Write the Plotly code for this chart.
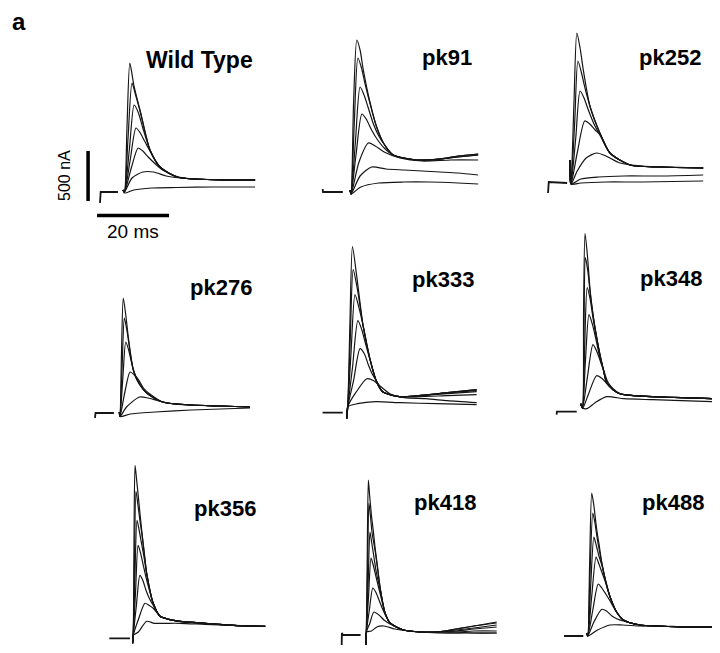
import plotly.graph_objects as go

# ---- data: time in ms from stimulus, current in nA above baseline ----
names = ["Wild Type", "pk91", "pk252", "pk276", "pk333", "pk348", "pk356", "pk418", "pk488"]

scale_na = 500
scale_ms = 20

# Wild Type
wt_base_t = [-6.4, -6.35, -6.2, -1.4]
wt_base_i = [-100, 0, 10, 10]
wt_t = [
    [0, 0.4, 1.1, 1.9, 3.0, 4.7, 7.5, 10.3, 15, 20, 28, 36.7],
    [0, 0.4, 1.4, 2.5, 3.5, 4.9, 7.5, 10.3, 15, 20, 28, 36.7],
    [0, 0.4, 1.8, 3.1, 4.3, 5.5, 7.5, 10.3, 15, 20, 28, 36.7],
    [0, 0.4, 2.0, 3.6, 4.8, 6.0, 7.8, 10.3, 15, 20, 28, 36.7],
    [0, 0.4, 2.3, 4.2, 5.5, 7.0, 9.0, 11, 15, 20, 28, 36.7],
    [0, 0.4, 2.5, 5.5, 8.5, 12, 16, 20, 28, 36.7],
    [0, 0.4, 3, 8, 15, 25, 36.7],
]
wt_i = [
    [30, 10, 650, 1300, 1080, 830, 430, 260, 160, 140, 130, 130],
    [30, 10, 550, 1100, 980, 800, 430, 260, 160, 140, 130, 130],
    [30, 10, 450, 880, 800, 650, 430, 260, 160, 140, 130, 130],
    [30, 10, 330, 650, 600, 520, 400, 260, 160, 140, 130, 130],
    [30, 10, 250, 450, 420, 360, 290, 230, 165, 140, 130, 130],
    [30, 10, 150, 210, 210, 170, 150, 140, 130, 130],
    [30, 0, 30, 50, 55, 60, 60],
]

# pk91
pk91_base_t = [-7.6, -7.5, -2.0]
pk91_base_i = [30, 0, 0]
pk91_t = [
    [0, 0.3, 1.0, 1.9, 2.8, 3.7, 5.6, 7.4, 9.3, 12, 18.6, 25, 30, 35.6],
    [0, 0.3, 1.2, 2.2, 3.2, 4.2, 5.6, 7.4, 9.3, 12, 18.6, 25, 30, 35.6],
    [0, 0.3, 1.5, 2.8, 3.8, 5.0, 6.5, 8.0, 9.8, 12, 18.6, 25, 30, 35.6],
    [0, 0.3, 1.7, 3.3, 4.5, 6.0, 7.5, 9.5, 12, 18.6, 25, 30, 35.6],
    [0, 0.3, 2.5, 5.1, 7, 9.5, 13.9, 20, 28, 35.6],
    [0, 0.3, 2.8, 6.0, 10, 15, 20, 25, 30, 35.6],
    [0, 0.3, 3, 8, 15, 22, 30, 35.6],
]
pk91_i = [
    [20, -20, 900, 1520, 1420, 1220, 890, 650, 490, 370, 320, 330, 360, 380],
    [20, -20, 700, 1340, 1240, 1080, 880, 650, 490, 370, 320, 330, 360, 380],
    [20, -20, 500, 1050, 980, 850, 680, 560, 460, 370, 320, 330, 350, 370],
    [20, -20, 380, 780, 730, 620, 530, 440, 370, 320, 330, 350, 370],
    [20, -20, 300, 490, 460, 400, 340, 310, 320, 320],
    [20, -20, 160, 250, 230, 220, 210, 200, 190, 170],
    [20, -20, 50, 90, 100, 100, 90, 80],
]

# pk252
pk252_base_t = [-6.1, -6.05, -5.9, -0.8]
pk252_base_i = [-100, 0, 10, 0]
pk252_t = [
    [0, 0.3, 1.1, 1.9, 2.8, 3.7, 5.6, 8.3, 11.1, 16.7, 25, 37],
    [0, 0.3, 1.3, 2.2, 3.2, 4.3, 5.8, 8.3, 11.1, 16.7, 25, 37],
    [0, 0.3, 1.6, 2.8, 3.9, 5.2, 6.8, 8.6, 11.1, 16.7, 25, 37],
    [0, 0.3, 2.0, 4.1, 5.5, 7, 8.5, 11.1, 16.7, 25, 37],
    [0, 0.3, 2, 4.5, 7.4, 10, 13.9, 20, 28, 37],
    [0, 0.3, 3, 8, 15, 25, 37],
    [0, 0.3, 3, 10, 20, 37],
]
pk252_i = [
    [230, -10, 800, 1500, 1350, 1130, 760, 500, 300, 180, 160, 150],
    [230, -10, 600, 1220, 1100, 930, 740, 500, 300, 180, 160, 150],
    [230, -10, 450, 920, 850, 720, 580, 460, 300, 180, 160, 150],
    [230, -10, 300, 620, 590, 530, 480, 300, 180, 160, 150],
    [230, -10, 120, 250, 300, 270, 200, 170, 160, 150],
    [230, -10, 40, 60, 70, 70, 80],
    [230, -10, 0, 10, 10, 20],
]

# pk276
pk276_base_t = [-6.75, -6.6, -1.5]
pk276_base_i = [-30, 20, 20]
pk276_t = [
    [0, 0.2, 0.6, 1.1, 1.8, 2.5, 3.9, 5.5, 7.6, 12, 20, 28, 36.3],
    [0, 0.2, 0.8, 1.4, 2.1, 2.8, 3.9, 5.5, 7.6, 12, 20, 28, 36.3],
    [0, 0.2, 1.0, 1.8, 2.6, 3.3, 4.3, 5.5, 7.6, 12, 20, 28, 36.3],
    [0, 0.2, 1.5, 3.0, 4.2, 5.4, 6.7, 8.5, 12, 20, 28, 36.3],
    [0, 0.2, 2, 5.6, 8, 11, 15, 20, 28, 36.3],
    [0, 0.2, 3, 10, 20, 36.3],
]
pk276_i = [
    [30, -15, 600, 1170, 1000, 780, 450, 320, 220, 130, 100, 90, 80],
    [30, -15, 500, 970, 850, 680, 450, 320, 220, 130, 100, 90, 80],
    [30, -15, 380, 730, 650, 540, 400, 310, 220, 130, 100, 90, 80],
    [30, -15, 220, 430, 400, 350, 270, 210, 130, 100, 90, 80],
    [30, -15, 80, 180, 170, 140, 110, 100, 90, 80],
    [30, -15, 10, 30, 50, 70],
]

# pk333
pk333_base_t = [-6.7, -1.1]
pk333_base_i = [0, 0]
pk333_t = [
    [0, 0.3, 0.9, 1.6, 2.8, 4.6, 6.5, 8.3, 10, 14.7, 20, 28, 36.1],
    [0, 0.3, 1.0, 1.8, 2.9, 4.6, 6.5, 8.3, 10, 14.7, 20, 28, 36.1],
    [0, 0.3, 1.2, 2.3, 3.4, 4.8, 6.5, 8.3, 10, 14.7, 20, 28, 36.1],
    [0, 0.3, 1.6, 3.1, 4.2, 5.3, 6.7, 8.3, 10, 14.7, 20, 28, 36.1],
    [0, 0.3, 1.9, 3.7, 4.9, 6.0, 7.2, 8.6, 10, 14.7, 20, 28, 36.1],
    [0, 0.3, 2.5, 5.6, 7.5, 9.5, 12, 16, 22, 28, 36.1],
    [0, 0.3, 3, 8, 15, 25, 36.1],
]
pk333_i = [
    [-60, 60, 900, 1660, 1360, 860, 530, 310, 210, 160, 170, 200, 230],
    [-60, 60, 750, 1430, 1250, 860, 530, 310, 210, 160, 170, 200, 230],
    [-60, 60, 600, 1180, 1050, 830, 530, 310, 210, 160, 170, 200, 220],
    [-60, 60, 450, 920, 830, 680, 500, 310, 210, 160, 170, 190, 210],
    [-60, 60, 320, 640, 590, 480, 380, 300, 210, 160, 160, 170, 180],
    [-60, 60, 200, 340, 320, 260, 190, 150, 140, 120, 100],
    [-60, 60, 90, 110, 100, 90, 80],
]

# pk348
pk348_base_t = [-6.7, -6.6, -1.1]
pk348_base_i = [-30, 0, 0]
pk348_t = [
    [0, 0.5, 0.8, 1.2, 1.9, 2.6, 3.5, 4.4, 5.4, 6.3, 7.2, 9, 10.9, 15, 20, 28, 36.8],
    [0, 0.5, 0.9, 1.3, 2.0, 2.6, 3.5, 4.4, 5.4, 6.3, 7.2, 9, 10.9, 15, 20, 28, 36.8],
    [0, 0.5, 1.1, 1.8, 2.6, 3.5, 4.4, 5.4, 6.3, 7.2, 9, 10.9, 15, 20, 28, 36.8],
    [0, 0.5, 1.3, 2.3, 3.2, 4.2, 5.2, 6.3, 7.2, 9, 10.9, 15, 20, 28, 36.8],
    [0, 0.5, 1.8, 3.4, 4.5, 5.5, 6.5, 7.5, 9, 10.9, 15, 20, 28, 36.8],
    [0, 0.5, 2.2, 4.4, 6, 7.5, 9, 11, 15, 20, 28, 36.8],
    [0, 0.5, 1.7, 4, 7.2, 12, 20, 28, 36.8],
]
pk348_i = [
    [80, 40, 1000, 1780, 1550, 1220, 950, 750, 560, 420, 290, 220, 180, 160, 150, 140, 130],
    [80, 40, 800, 1540, 1400, 1200, 950, 750, 560, 420, 290, 220, 180, 160, 150, 140, 130],
    [80, 40, 650, 1240, 1130, 920, 740, 560, 420, 290, 220, 180, 160, 150, 140, 130],
    [80, 40, 500, 970, 880, 730, 560, 420, 300, 220, 180, 160, 150, 140, 130],
    [80, 40, 330, 670, 600, 500, 400, 300, 230, 180, 160, 150, 140, 130],
    [80, 30, 180, 360, 330, 270, 220, 180, 160, 150, 140, 130],
    [80, 40, 30, 90, 150, 130, 120, 110, 100],
]

# pk356
pk356_base_t = [-6.5, -0.75]
pk356_base_i = [0, 0]
pk356_t = [
    [0, 0.15, 0.35, 0.65, 1.1, 1.8, 2.5, 3.2, 3.9, 5.7, 7.6, 10, 13.1, 20, 28, 36.8],
    [0, 0.15, 0.5, 0.9, 1.4, 2.0, 2.6, 3.2, 3.9, 5.7, 7.6, 10, 13.1, 20, 28, 36.8],
    [0, 0.15, 0.6, 1.2, 1.8, 2.5, 3.2, 3.9, 5.7, 7.6, 10, 13.1, 20, 28, 36.8],
    [0, 0.15, 0.8, 1.5, 2.2, 3.0, 3.9, 4.8, 5.7, 7.6, 10, 13.1, 20, 28, 36.8],
    [0, 0.15, 1.0, 2.0, 2.8, 3.7, 4.6, 5.7, 7.6, 10, 13.1, 20, 28, 36.8],
    [0, 0.15, 1.5, 3.4, 4.5, 5.7, 7.6, 10, 13.1, 20, 28, 36.8],
    [0, 0.15, 1.5, 3.9, 6, 9, 13.1, 20, 28, 36.8],
]
pk356_i = [
    [-50, 30, 900, 1730, 1580, 1330, 1080, 860, 650, 350, 220, 190, 170, 150, 130, 120],
    [-50, 30, 750, 1470, 1350, 1180, 1030, 850, 650, 350, 220, 190, 170, 150, 130, 120],
    [-50, 30, 600, 1180, 1080, 940, 800, 640, 350, 220, 190, 170, 150, 130, 120],
    [-50, 30, 470, 930, 850, 720, 580, 460, 350, 220, 190, 170, 150, 130, 120],
    [-50, 30, 320, 630, 580, 480, 400, 330, 220, 190, 170, 150, 130, 120],
    [-50, 30, 180, 350, 330, 300, 220, 190, 170, 150, 130, 120],
    [-50, 30, 60, 170, 150, 150, 150, 140, 130, 120],
]

# pk418
pk418_base_t = [-6.75, -6.7, -6.4, -1.5]
pk418_base_i = [-100, 20, 0, 0]
pk418_t = [
    [0, 0.1, 0.35, 0.65, 1.0, 1.5, 2.0, 2.5, 3.2, 3.9, 5.3, 6.7, 10.4, 15, 19.7, 25, 30, 36.3],
    [0, 0.1, 0.45, 0.8, 1.2, 1.7, 2.5, 3.2, 3.9, 5.3, 6.7, 10.4, 15, 19.7, 25, 30, 36.3],
    [0, 0.1, 0.6, 1.1, 1.6, 2.2, 2.9, 3.9, 5.3, 6.7, 10.4, 15, 19.7, 25, 30, 36.3],
    [0, 0.1, 0.7, 1.4, 2.0, 2.8, 3.6, 4.5, 5.3, 6.7, 10.4, 15, 19.7, 25, 30, 36.3],
    [0, 0.1, 0.9, 1.9, 2.7, 3.5, 4.5, 5.5, 6.7, 10.4, 15, 19.7, 25, 30, 36.3],
    [0, 0.1, 1.0, 2.2, 3.6, 5, 6.7, 10.4, 15, 19.7, 25, 30, 36.3],
    [0, 0.1, 1.5, 3.0, 5, 8, 12, 20, 28, 36.3],
]
pk418_i = [
    [-100, 30, 800, 1550, 1400, 1200, 1050, 880, 680, 480, 220, 120, 50, 30, 30, 60, 90, 130],
    [-100, 30, 650, 1320, 1200, 1020, 850, 670, 480, 220, 120, 50, 30, 30, 60, 90, 120],
    [-100, 30, 520, 1030, 920, 780, 620, 460, 220, 120, 50, 30, 30, 50, 70, 100],
    [-100, 30, 380, 770, 700, 580, 460, 330, 220, 120, 50, 30, 30, 40, 60, 80],
    [-100, 30, 240, 470, 430, 360, 270, 190, 120, 50, 30, 30, 30, 40, 40],
    [-100, 30, 110, 230, 200, 150, 110, 50, 30, 30, 30, 20, 20],
    [-100, 30, 40, 80, 90, 60, 40, 20, 20, 20],
]

# pk488
pk488_base_t = [-6.3, -0.95]
pk488_base_i = [0, 0]
pk488_t = [
    [0, 0.3, 0.8, 1.4, 2.0, 2.8, 3.5, 4.2, 5.3, 6.5, 8.3, 10.2, 14.8, 20, 28, 37],
    [0, 0.3, 0.9, 1.7, 2.3, 2.9, 3.6, 4.2, 5.3, 6.5, 8.3, 10.2, 14.8, 20, 28, 37],
    [0, 0.3, 1.1, 2.0, 2.7, 3.4, 4.2, 5.3, 6.5, 8.3, 10.2, 14.8, 20, 28, 37],
    [0, 0.3, 1.4, 2.6, 3.4, 4.2, 5.3, 6.5, 8.3, 10.2, 14.8, 20, 28, 37],
    [0, 0.3, 1.7, 3.2, 4.2, 5.3, 6.5, 8.3, 10.2, 14.8, 20, 28, 37],
    [0, 0.3, 2.0, 4.2, 5.5, 7, 8.5, 10.2, 14.8, 20, 28, 37],
    [0, 0.3, 3, 6.5, 10, 14.8, 20, 28, 37],
]
pk488_i = [
    [30, 0, 700, 1430, 1300, 1060, 900, 730, 540, 390, 240, 160, 110, 100, 90, 90],
    [30, 0, 600, 1230, 1130, 980, 840, 730, 540, 390, 240, 160, 110, 100, 90, 90],
    [30, 0, 500, 990, 900, 800, 710, 550, 390, 240, 160, 110, 100, 90, 90],
    [30, 0, 400, 790, 720, 640, 530, 390, 240, 160, 110, 100, 90, 90],
    [30, 0, 260, 520, 480, 420, 350, 240, 160, 110, 100, 90, 90],
    [30, 0, 140, 267, 250, 200, 170, 150, 110, 100, 90, 90],
    [30, 0, 60, 110, 110, 100, 100, 90, 90],
]

panels = [
    (wt_base_t, wt_base_i, wt_t, wt_i),
    (pk91_base_t, pk91_base_i, pk91_t, pk91_i),
    (pk252_base_t, pk252_base_i, pk252_t, pk252_i),
    (pk276_base_t, pk276_base_i, pk276_t, pk276_i),
    (pk333_base_t, pk333_base_i, pk333_t, pk333_i),
    (pk348_base_t, pk348_base_i, pk348_t, pk348_i),
    (pk356_base_t, pk356_base_i, pk356_t, pk356_i),
    (pk418_base_t, pk418_base_i, pk418_t, pk418_i),
    (pk488_base_t, pk488_base_i, pk488_t, pk488_i),
]

# ---- layout: page pixels, common scale for all panels ----
W, H = 720, 653
OFF = 8          # the page body adds an 8px margin, take it back here
PX_MS = 3.6      # pixels per ms
NA_PX = 10.0     # nA per pixel

# stimulus x / baseline y of each panel on the page, and the page spot of its label
origins = [(123, 193), (350, 192), (570, 183),
           (119.3, 415), (346.7, 412.7), (580.7, 411.7),
           (132.7, 638.3), (366, 635), (586.7, 636)]
label_pos = [(255, 60), (474, 57), (703, 57),
             (254, 287), (476, 279), (704, 278),
             (258, 508), (478, 502), (706, 502)]
label_size = [23, 22, 22, 22, 22, 22, 22, 22, 22]


def px(x):
    return (x - OFF) / W


def py(y):
    return 1 - (y - OFF) / H


INK = "#151515"
fig = go.Figure()
layout = {}

for n, ((bt, bi, tt, ii), (sx, sy)) in enumerate(zip(panels, origins), start=1):
    xs = "" if n == 1 else str(n)
    sx, sy = sx - OFF, sy - OFF
    ylo = -400 if n == 1 else -120
    x0 = max(sx - 12.5 * PX_MS, 0)
    x1 = min(sx + 38.5 * PX_MS, W)
    top = max(sy - 1800 / NA_PX, 0)
    bot = min(sy - ylo / NA_PX, H)
    layout["xaxis" + xs] = dict(domain=[x0 / W, x1 / W],
                                range=[(x0 - sx) / PX_MS, (x1 - sx) / PX_MS],
                                visible=False, anchor="y" + xs, fixedrange=True)
    layout["yaxis" + xs] = dict(domain=[1 - bot / H, 1 - top / H],
                                range=[(sy - bot) * NA_PX, (sy - top) * NA_PX],
                                visible=False, anchor="x" + xs, fixedrange=True)
    fig.add_trace(go.Scatter(x=bt, y=bi, mode="lines", xaxis="x" + xs, yaxis="y" + xs,
                             line=dict(color=INK, width=1.8), hoverinfo="skip"))
    for t, i in zip(tt, ii):
        fig.add_trace(go.Scatter(x=t, y=i, mode="lines", xaxis="x" + xs, yaxis="y" + xs,
                                 line=dict(color=INK, width=1.2, shape="spline", smoothing=0.7),
                                 hoverinfo="skip"))

fig.update_layout(**layout)

# scale bars in the Wild Type panel
bar_x = -9.7
bar_y0 = -80
hbar_x0 = -7.2
hbar_y = -225
fig.add_shape(type="line", xref="x", yref="y", x0=bar_x, x1=bar_x,
              y0=bar_y0, y1=bar_y0 + scale_na, line=dict(color="black", width=3.5))
fig.add_shape(type="line", xref="x", yref="y", x0=hbar_x0, x1=hbar_x0 + scale_ms,
              y0=hbar_y, y1=hbar_y, line=dict(color="black", width=3.5))

ann = []
for name, (lx, ly), fs in zip(names, label_pos, label_size):
    ann.append(dict(text="<b>%s</b>" % name, x=px(lx), y=py(ly), xref="paper", yref="paper",
                    xanchor="right", yanchor="middle", showarrow=False,
                    font=dict(family="Liberation Sans, Arial", size=fs, color="black")))
ann.append(dict(text="<b>a</b>", x=px(10), y=py(22), xref="paper", yref="paper",
                xanchor="left", yanchor="middle", showarrow=False,
                font=dict(family="Liberation Sans, Arial", size=24, color="black")))
ann.append(dict(text="%d nA" % scale_na, x=px(65), y=py(176), xref="paper", yref="paper",
                xanchor="center", yanchor="middle", textangle=-90, showarrow=False,
                font=dict(family="Liberation Sans, Arial", size=16, color="black")))
ann.append(dict(text="%d ms" % scale_ms, x=px(133), y=py(231), xref="paper", yref="paper",
                xanchor="center", yanchor="middle", showarrow=False,
                font=dict(family="Liberation Sans, Arial", size=19, color="black")))

fig.update_layout(width=W, height=H, margin=dict(l=0, r=0, t=0, b=0),
                  paper_bgcolor="white", plot_bgcolor="white",
                  showlegend=False, annotations=ann)

fig.write_html("out.html")
